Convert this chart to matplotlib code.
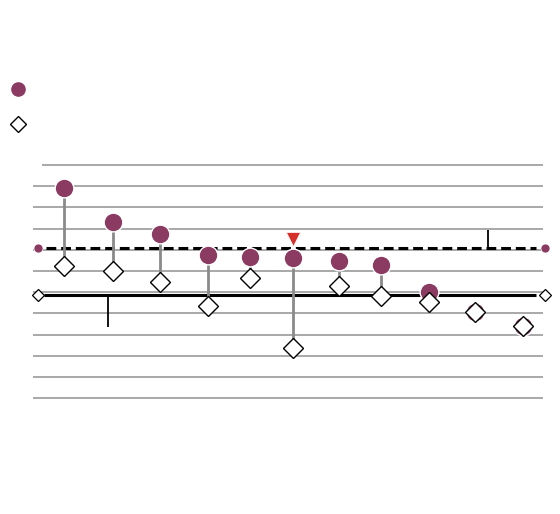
import matplotlib
matplotlib.use("Agg")
import matplotlib.pyplot as plt
from matplotlib.lines import Line2D
import numpy as np

# Positions along x (one per item) and the two series values
x_pos = [1.0, 2.06, 3.09, 4.14, 5.04, 5.98, 6.98, 7.90, 8.94, 9.93, 10.98]
circle_vals = [24.5, 16.6, 13.7, 8.8, 8.4, 8.1, 7.4, 6.4, 0.1, -4.7, -7.9]
diamond_vals = [6.3, 5.0, 2.5, -3.2, 3.4, -13.2, 1.5, -0.8, -2.3, -4.7, -7.9]

# Reference levels (dashed = circle average, solid = diamond average)
circle_ref = 10.5
diamond_ref = -0.7
ref_span = [0.61, 11.26]
ref_ends = [0.44, 11.46]

# Gridlines
grid_vals = np.arange(-25, 31, 5)

# Highlight marker and annotation ticks
flag_x, flag_y = 5.98, 12.6
tick_lines = [(1.95, diamond_ref, -8.2), (10.22, 14.7, circle_ref)]

purple = "#8b3a62"
grey = "#9a9a9a"

fig = plt.figure(figsize=(5.6, 5.14), dpi=100)
ax = fig.add_axes([0, 0, 1, 1])
ax.set_xlim(-0.391, 11.78)
ax.set_ylim(-52.31, 68.92)
ax.axis("off")

for g in grid_vals:
    start = 0.52 if g == grid_vals.max() else 0.33
    ax.hlines(g, start, 11.41, color=grey, lw=1.2, zorder=1)

ax.hlines(circle_ref, *ref_span, color="black", lw=2.2,
          linestyles=(0, (3.2, 1.6)), zorder=2)
ax.hlines(diamond_ref, ref_span[0] - 0.04, ref_span[1], color="black", lw=2.2, zorder=2)

for xt, y0, y1 in tick_lines:
    ax.vlines(xt, y0, y1, color="black", lw=1.3, zorder=2)

ax.vlines(x_pos, circle_vals, diamond_vals, color="#8a8a8a", lw=2, zorder=3)

ax.plot(x_pos, circle_vals, "o", ms=13.5, color=purple, mec="white", mew=1, zorder=4)
ax.plot(x_pos, diamond_vals, "D", ms=10.5, mfc="white", mec="black", mew=1, zorder=5)

ax.plot(ref_ends, [circle_ref] * 2, "o", ms=6.5, color=purple, mec="white", mew=0.5, zorder=4)
ax.plot(ref_ends, [diamond_ref] * 2, "D", ms=6, mfc="white", mec="black", mew=0.9, zorder=5)

ax.plot(flag_x, flag_y, "v", ms=10, color="#d6302a", mec="white", mew=0.5, zorder=6)

handles = [
    Line2D([], [], ls="none", marker="o", ms=9.5, color=purple),
    Line2D([], [], ls="none", marker="D", ms=8, mfc="white", mec="black", mew=1),
]
ax.legend(handles, ["", ""], loc="upper left", bbox_to_anchor=(0.005, 0.857),
          frameon=False, handlelength=0.8, handletextpad=0, labelspacing=1.5,
          borderaxespad=0.3)

fig.savefig("out.png", dpi=100)
